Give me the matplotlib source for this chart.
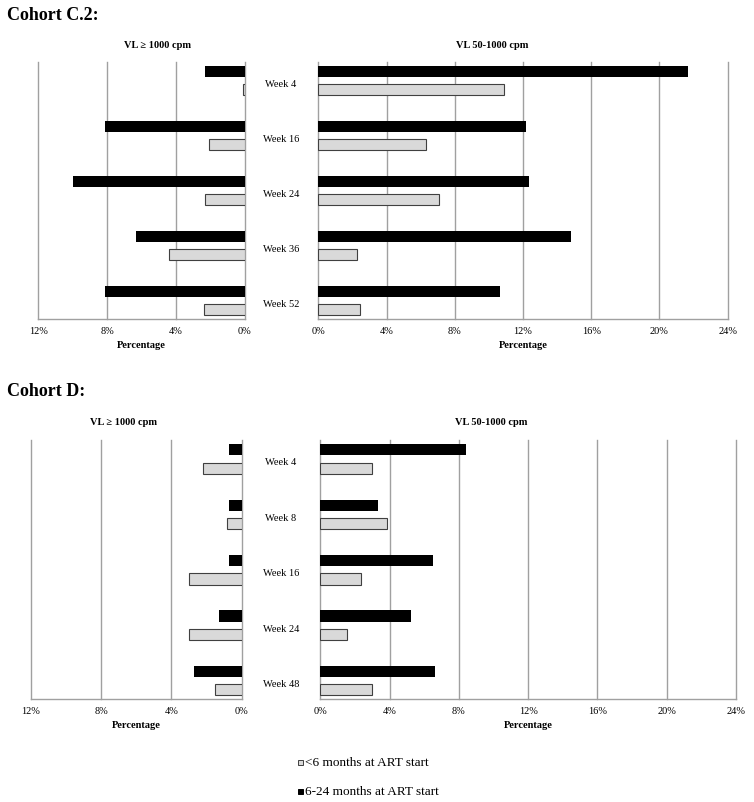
import numpy as np
import matplotlib.pyplot as plt
from matplotlib.patches import Rectangle
from matplotlib.transforms import blended_transform_factory

plt.rcParams["font.family"] = ["Liberation Serif", "DejaVu Serif"]

# ---- data (percent) ----
weeks_c2 = ["Week 4", "Week 16", "Week 24", "Week 36", "Week 52"]
c2_high_lt6 = [0.13, 2.1, 2.3, 4.4, 2.4]       # VL >= 1000, <6 months
c2_high_6_24 = [2.3, 8.1, 10.0, 6.3, 8.1]      # VL >= 1000, 6-24 months
c2_mid_lt6 = [10.9, 6.3, 7.05, 2.25, 2.45]     # VL 50-1000, <6 months
c2_mid_6_24 = [21.7, 12.2, 12.35, 14.8, 10.65]  # VL 50-1000, 6-24 months

weeks_d = ["Week 4", "Week 8", "Week 16", "Week 24", "Week 48"]
d_high_lt6 = [2.2, 0.82, 3.0, 3.0, 1.5]
d_high_6_24 = [0.7, 0.7, 0.7, 1.3, 2.7]
d_mid_lt6 = [3.0, 3.83, 2.33, 1.52, 3.0]
d_mid_6_24 = [8.4, 3.35, 6.5, 5.25, 6.64]

left_ticks = [0, 4, 8, 12]
right_ticks = [0, 4, 8, 12, 16, 20, 24]

W, H = 754, 803
fig = plt.figure(figsize=(W / 100, H / 100), dpi=100)

GRID = "#a0a0a0"
LIGHT = "#d9d9d9"
EDGE = "#404040"
FS = 7.5


def px_axes(x0, y0, x1, y1):
    return fig.add_axes([x0 / W, 1 - y1 / H, (x1 - x0) / W, (y1 - y0) / H])


def ftext(x, y, s, **kw):
    fig.text(x / W, 1 - y / H, s, **kw)


def panel(ax, black, gray, xmax, ticks, invert):
    y = np.arange(len(black))
    ax.barh(y - 0.166, black, height=0.2, color="black", zorder=3)
    ax.barh(y + 0.166, gray, height=0.2, color=LIGHT, edgecolor=EDGE,
            linewidth=0.8, zorder=3)
    if invert:
        ax.set_xlim(xmax, 0)
    else:
        ax.set_xlim(0, xmax)
    ax.set_ylim(4.33, -0.34)
    ax.set_xticks(ticks)
    ax.set_xticklabels([f"{t}%" for t in ticks])
    ax.set_yticks([])
    ax.tick_params(axis="x", length=0, pad=5, labelsize=FS)
    ax.grid(True, axis="x", color=GRID, linewidth=1.0, zorder=0)
    for gl in ax.get_xgridlines():
        gl.set_clip_on(False)
    ax.set_axisbelow(True)
    for s in ["top", "left", "right"]:
        ax.spines[s].set_visible(False)
    ax.spines["bottom"].set_color(GRID)
    ax.spines["bottom"].set_linewidth(1.0)


def cohort(title, title_y, weeks, hi_lt6, hi_624, mid_lt6, mid_624, geo):
    (lx0, lx1, rx0, rx1, top, bot, t_left, t_right, sub_y, pct_y, lab_x) = geo
    ftext(7, title_y, title, fontsize=13, fontweight="bold", va="center")

    axl = px_axes(lx0, top, lx1, bot)
    panel(axl, hi_624, hi_lt6, 12, left_ticks, True)
    axr = px_axes(rx0, top, rx1, bot)
    panel(axr, mid_624, mid_lt6, 24, right_ticks, False)

    ftext(t_left, sub_y, "VL \u2265 1000 cpm", fontsize=FS, fontweight="bold",
          ha="center", va="center")
    ftext(t_right, sub_y, "VL 50-1000 cpm", fontsize=FS, fontweight="bold",
          ha="center", va="center")
    ftext((lx0 + lx1) / 2, pct_y, "Percentage", fontsize=FS,
          fontweight="bold", ha="center", va="center")
    ftext((rx0 + rx1) / 2, pct_y, "Percentage", fontsize=FS,
          fontweight="bold", ha="center", va="center")

    tr = blended_transform_factory(axl.transAxes, axl.transData)
    for i, w in enumerate(weeks):
        axl.text(1 + (lab_x - lx1) / (lx1 - lx0), i + 0.05, w, transform=tr,
                 fontsize=FS, ha="center", va="center", clip_on=False)


cohort("Cohort C.2:", 15, weeks_c2, c2_high_lt6, c2_high_6_24,
       c2_mid_lt6, c2_mid_6_24,
       (38.3, 245, 318.3, 727.7, 63, 320, 157, 492, 46, 346, 281))
cohort("Cohort D:", 392, weeks_d, d_high_lt6, d_high_6_24,
       d_mid_lt6, d_mid_6_24,
       (31, 241.7, 320.3, 736, 441, 700, 123, 491, 423, 726, 281))

# legend
fig.add_artist(Rectangle((298 / W, 1 - 766 / H), 5 / W, 5 / H,
                         transform=fig.transFigure, facecolor=LIGHT,
                         edgecolor=EDGE, linewidth=0.7))
fig.add_artist(Rectangle((298 / W, 1 - 795 / H), 5 / W, 5 / H,
                         transform=fig.transFigure, facecolor="black",
                         edgecolor="black", linewidth=0.7))
ftext(305, 763, "<6 months at ART start", fontsize=9.5, va="center")
ftext(305, 792, "6-24 months at ART start", fontsize=9.5, va="center")

fig.savefig("out.png", dpi=100)
